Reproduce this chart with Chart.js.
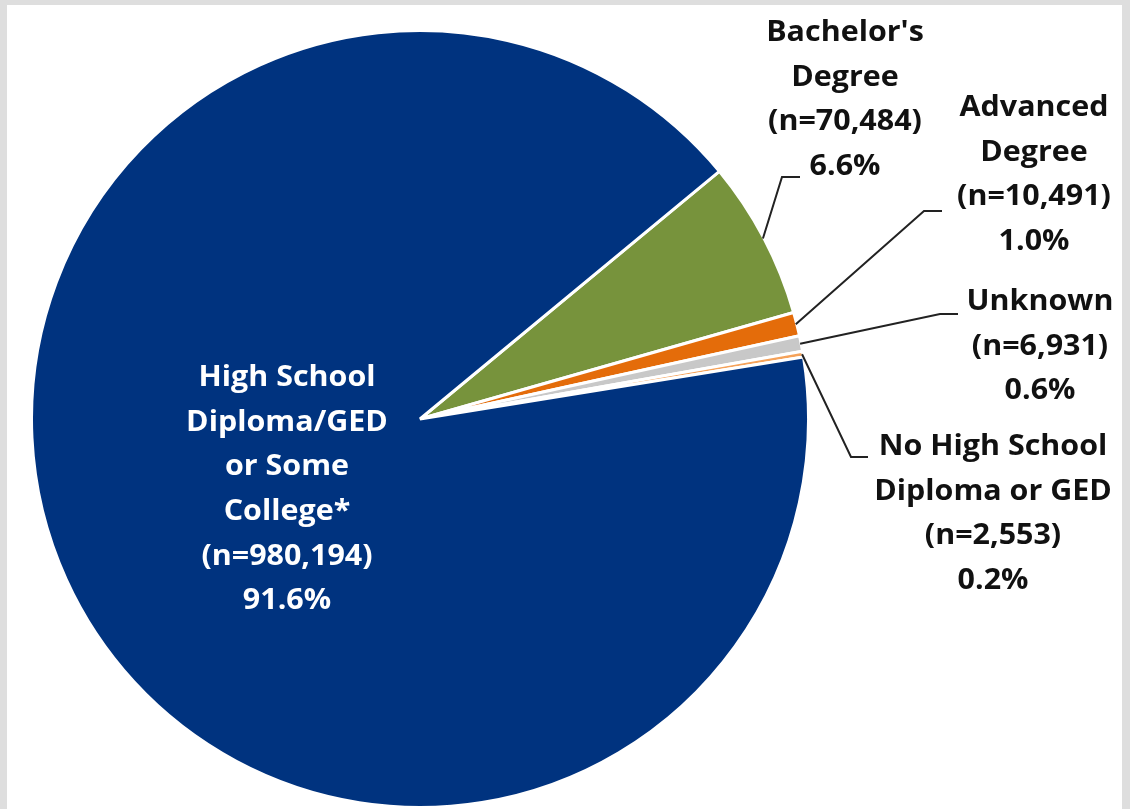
<!DOCTYPE html>
<html>
    <head>
        <meta charset="utf8">
        <script src="https://cdn.jsdelivr.net/npm/chart.js@4.4.1/dist/chart.umd.min.js"></script>
        <style>
                body{
                        margin: 0;
                        background-color: #dedede;
                        font-family: "Open Sans", sans-serif;
                }
                .marco{
                        position: absolute;
                        left: 7px;
                        top: 5px;
                        width: 1115px;
                        height: 804px;
                        background-color: white;
                }
                #pie{
                        position: absolute;
                        left: 0;
                        top: 0;
                }
        </style>
    </head>
    <body>
        <div class="marco"></div>
        <canvas id="pie" width="1130" height="809"></canvas>
        <script>

                // datos
                var categorias = [
                        ["Bachelor's", "Degree"],
                        ["Advanced", "Degree"],
                        ["Unknown"],
                        ["No High School", "Diploma or GED"],
                        ["High School", "Diploma/GED", "or Some", "College*"]
                ];
                var conteos = [70484, 10491, 6931, 2553, 980194];
                var colores = ['#77933c', '#e46c0a', '#c8c8c8', '#f5a25a', '#00337f'];

                // donde va cada texto (centro x, y de la primera linea) y el codo de la linea guia
                var posTexto = [
                        {x: 845, y: 33, color: '#111'},
                        {x: 1034, y: 108, color: '#111'},
                        {x: 1040, y: 302, color: '#111'},
                        {x: 993, y: 447, color: '#111'},
                        {x: 287, y: 378, color: '#fff'}
                ];
                var codos = [
                        [[782, 177], [800, 177]],
                        [[924, 211], [942, 211]],
                        [[940, 314], [958, 314]],
                        [[851, 457], [868, 457]],
                        null
                ];

                var total = conteos.reduce((a, b) => a + b, 0);

                const etiquetas = {
                        id: 'etiquetas',
                        afterDatasetsDraw(chart) {
                                const c = chart.ctx;
                                const arcs = chart.getDatasetMeta(0).data;
                                c.save();
                                c.font = 'bold 29px "Open Sans"';
                                c.textAlign = 'center';
                                c.textBaseline = 'middle';
                                arcs.forEach((arc, i) => {
                                        if (codos[i]) {
                                                const mid = (arc.startAngle + arc.endAngle) / 2;
                                                const r = arc.outerRadius - 1;
                                                c.beginPath();
                                                c.moveTo(arc.x + Math.cos(mid) * r, arc.y + Math.sin(mid) * r);
                                                codos[i].forEach(p => c.lineTo(p[0], p[1]));
                                                c.strokeStyle = '#222';
                                                c.lineWidth = 2;
                                                c.stroke();
                                        }
                                        const lineas = categorias[i].concat([
                                                '(n=' + conteos[i].toLocaleString('en-US') + ')',
                                                (conteos[i] / total * 100).toFixed(1) + '%'
                                        ]);
                                        c.fillStyle = posTexto[i].color;
                                        lineas.forEach((t, k) => {
                                                c.save();
                                                c.translate(posTexto[i].x, posTexto[i].y + k * 44.6);
                                                c.scale(1.05, 1);
                                                c.fillText(t, 0, 0);
                                                c.restore();
                                        });
                                });
                                c.restore();
                        }
                };

                const ctx = document.getElementById('pie').getContext('2d');
                const myChart = new Chart(ctx, {
                        type: 'pie',
                        data: {
                                labels: categorias.map(l => l.join(' ')),
                                datasets: [{
                                        data: conteos,
                                        backgroundColor: colores,
                                        borderColor: '#ffffff',
                                        borderWidth: 3
                                }]
                        },
                        options: {
                                responsive: false,
                                animation: false,
                                rotation: 50.4,
                                layout: {
                                        padding: {left: 30, right: 320, top: 29, bottom: 0}
                                },
                                plugins: {
                                        legend: {display: false},
                                        tooltip: {enabled: false}
                                }
                        },
                        plugins: [etiquetas]
                });
        </script>
    </body>
</html>
